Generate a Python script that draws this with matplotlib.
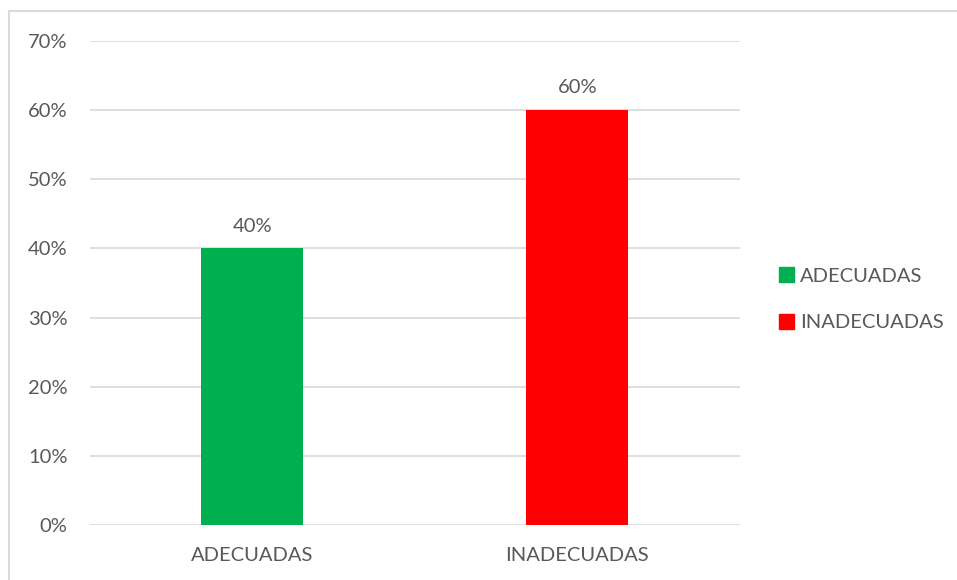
import matplotlib
matplotlib.use("Agg")
import matplotlib.pyplot as plt
from matplotlib.patches import Rectangle, Patch

categories = ["ADECUADAS", "INADECUADAS"]
values = [40, 60]
colors = ["#00B050", "#FF0000"]
yticks = [0, 10, 20, 30, 40, 50, 60, 70]

TXT = "#595959"
FS = 14.5
plt.rcParams["font.family"] = ["Lato", "DejaVu Sans"]

fig = plt.figure(figsize=(9.57, 5.8), dpi=100)
ax = fig.add_axes([0.094, 0.0948, 0.679, 0.8345])

x = range(len(categories))
bars = ax.bar(x, values, width=0.314, color=colors, zorder=3)
for b, v in zip(bars, values):
    ax.text(b.get_x() + b.get_width() / 2, v + 2.0, f"{v}%",
            ha="center", va="bottom", fontsize=FS, color=TXT)

ax.set_xlim(-0.5, 1.5)
ax.set_ylim(0, 70)
ax.set_yticks(yticks)
ax.set_yticklabels([f"{t}%" for t in yticks], fontsize=FS, color=TXT)
ax.set_xticks(list(x))
ax.set_xticklabels(categories, fontsize=FS, color=TXT)
ax.tick_params(length=0)
ax.tick_params(axis="y", pad=16)
ax.tick_params(axis="x", pad=16)
ax.grid(axis="y", color="#d9d9d9", lw=1.2, zorder=0)
for s in ax.spines.values():
    s.set_visible(False)

handles = [Patch(color=c, label=l) for c, l in zip(colors, categories)]
fig.legend(handles=handles, loc="center left", bbox_to_anchor=(0.795, 0.484),
           frameon=False, fontsize=FS, labelcolor=TXT, handlelength=0.75,
           handleheight=0.75, handletextpad=0.3, labelspacing=1.45)

# chart frame (left and top edges visible)
fig.patches.append(Rectangle((9 / 957, -0.1), 1.2, 1 - 11 / 580 + 0.1,
                             transform=fig.transFigure, fill=False,
                             edgecolor="#d9d9d9", lw=1.5))

fig.savefig("out.png", dpi=100)
